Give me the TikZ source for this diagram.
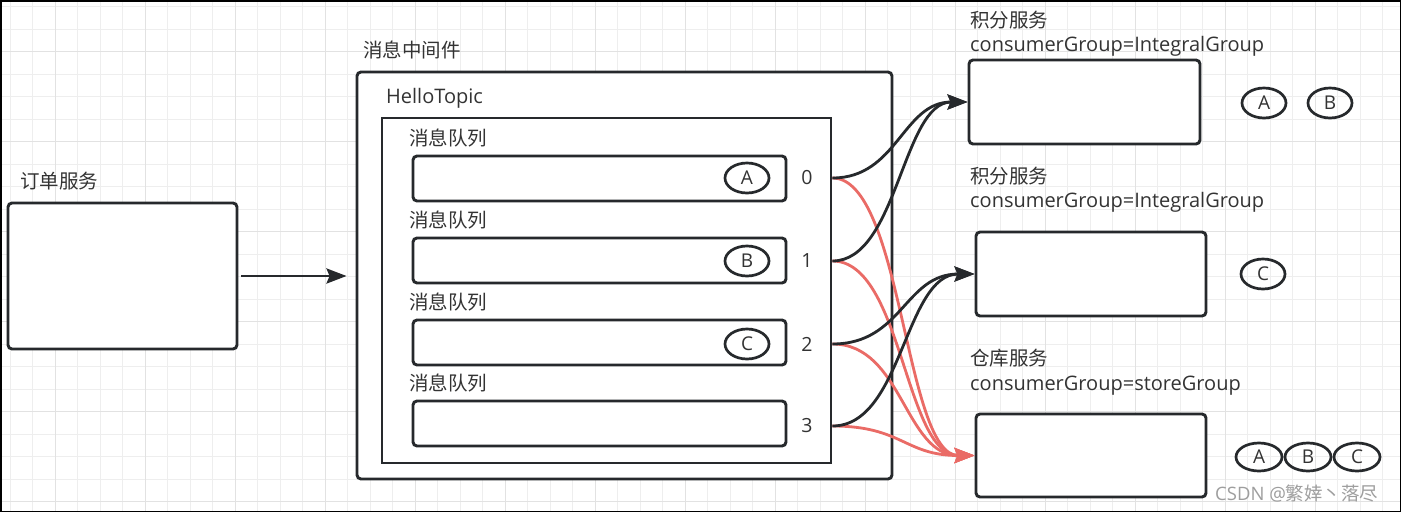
\documentclass[tikz,border=0pt]{standalone}
\usepackage{fontspec}
\setmainfont{Open Sans}
\newfontfamily\cjk{Noto Sans CJK SC}
\usetikzlibrary{shapes.geometric,arrows.meta}
\definecolor{ink}{HTML}{26292C}
\definecolor{txt}{HTML}{333333}
\definecolor{redc}{HTML}{EA6B66}
\definecolor{gridminor}{HTML}{EEEEEE}
\definecolor{gridmajor}{HTML}{E2E2E2}
\tikzset{
  box/.style={draw=ink, line width=2.9pt, rounded corners=4pt, fill=white, inner sep=0pt},
  sqbox/.style={draw=ink, line width=2.9pt, fill=white, inner sep=0pt},
  lab/.style={anchor=base west, inner sep=0pt, text=txt, font=\cjk\fontsize{19.5}{22}\selectfont},
  latlab/.style={anchor=base west, inner sep=0pt, text=txt, font=\fontsize{20}{22}\selectfont},
  msg/.style={ellipse, draw=ink, line width=2.7pt, minimum width=44pt, minimum height=30pt, inner sep=0pt, text=txt, font=\fontsize{19}{22}\selectfont},
  digit/.style={inner sep=0pt, text=txt, font=\fontsize{19.5}{22}\selectfont},
  blk/.style={draw=ink, line width=2.8pt, -{Stealth[length=20pt,width=15pt,inset=3pt]}},
  rd/.style={draw=redc, line width=2.8pt, -{Stealth[length=20pt,width=15pt,inset=3pt]}},
}
\begin{document}
\begin{tikzpicture}[x=1pt,y=-1pt]
\useasboundingbox (0,0) rectangle (1401,512);
\fill[white] (0,0) rectangle (1401,512);
% grid
\foreach \i in {0,...,61} {\draw[gridminor, line width=1pt] ({10+22.5*\i},0) -- ({10+22.5*\i},512);}
\foreach \i in {0,...,22} {\draw[gridminor, line width=1pt] (0,{6.7+22.5*\i}) -- (1401,{6.7+22.5*\i});}
\foreach \i in {0,...,15} {\draw[gridmajor, line width=1pt] ({55+90*\i},0) -- ({55+90*\i},512);}
\foreach \i in {0,...,5} {\draw[gridmajor, line width=1pt] (0,{51.7+90*\i}) -- (1401,{51.7+90*\i});}
\draw[black, line width=1.5pt] (0.75,0.75) rectangle (1400.25,511.25);

% order service
\node[lab] (lorder) at (20,188) {订单服务};
\node[box, minimum width=229pt, minimum height=146pt] (order) at (122.5,276) {};

% middleware
\node[lab] (lmq) at (363,57) {消息中间件};
\node[box, minimum width=535pt, minimum height=407pt] (mq) at (624.5,275.5) {};
\node[latlab] (ltopic) at (386,103) {HelloTopic};
\node[sqbox, minimum width=449pt, minimum height=345pt] (inner) at (606.5,290.5) {};

\node[lab] (lq0) at (409,145) {消息队列};
\node[box, minimum width=373pt, minimum height=45pt] (q0) at (599.5,178.5) {};
\node[lab] (lq1) at (409,227) {消息队列};
\node[box, minimum width=373pt, minimum height=45pt] (q1) at (599.5,260.5) {};
\node[lab] (lq2) at (409,309) {消息队列};
\node[box, minimum width=373pt, minimum height=45pt] (q2) at (599.5,342.5) {};
\node[lab] (lq3) at (409,390) {消息队列};
\node[box, minimum width=373pt, minimum height=45pt] (q3) at (599.5,423.5) {};

\node[msg] (ma) at (747,178) {A};
\node[msg] (mb) at (747,261) {B};
\node[msg] (mc) at (747,344) {C};

\node[digit] (d0) at (807,178) {0};
\node[digit] (d1) at (807,261) {1};
\node[digit] (d2) at (807,344) {2};
\node[digit] (d3) at (807,426) {3};

% consumers
\node[lab] (l1a) at (970,27) {积分服务};
\node[latlab] (l1b) at (970,51) {consumerGroup=IntegralGroup};
\node[box, minimum width=231pt, minimum height=84pt] (box1) at (1084.5,102) {};
\node[msg] (r1a) at (1264,103) {A};
\node[msg] (r1b) at (1330,103) {B};

\node[lab] (l2a) at (970,183) {积分服务};
\node[latlab] (l2b) at (970,207) {consumerGroup=IntegralGroup};
\node[box, minimum width=230pt, minimum height=84pt] (box2) at (1091,274) {};
\node[msg] (r2c) at (1263,274) {C};

\node[lab] (l3a) at (970,365) {仓库服务};
\node[latlab] (l3b) at (970,390) {consumerGroup=storeGroup};
\node[box, minimum width=230pt, minimum height=83pt] (box3) at (1091,455.5) {};
\node[msg, minimum width=46pt, minimum height=28pt] (r3a) at (1259,457) {A};
\node[msg, minimum width=46pt, minimum height=28pt] (r3b) at (1308,457) {B};
\node[msg, minimum width=46pt, minimum height=28pt] (r3c) at (1357,457) {C};

% watermark
\node[anchor=base west, inner sep=0pt, text=black!38, font=\fontsize{18.5}{20}\selectfont] (wm) at (1215,500) {CSDN @{\cjk 繁婞丶落尽}};

% connectors
\draw[blk] ([xshift=3pt]order.east) -- ([xshift=-9pt]mq.west |- order.east);

\draw[rd] (inner.east |- d0) .. controls +(70,0) and +(-70,0) .. (box3.west);
\draw[rd] (inner.east |- d1) .. controls +(70,0) and +(-70,0) .. (box3.west);
\draw[rd] (inner.east |- d2) .. controls +(70,0) and +(-70,0) .. (box3.west);
\draw[rd] (inner.east |- d3) .. controls +(70,0) and +(-70,0) .. (box3.west);

\draw[blk] (inner.east |- d0) .. controls +(65,0) and +(-65,0) .. (box1.west);
\draw[blk] (inner.east |- d1) .. controls +(65,0) and +(-65,0) .. (box1.west);
\draw[blk] (inner.east |- d2) .. controls +(70,0) and +(-70,0) .. (box2.west);
\draw[blk] (inner.east |- d3) .. controls +(70,0) and +(-70,0) .. (box2.west);
\end{tikzpicture}
\end{document}
